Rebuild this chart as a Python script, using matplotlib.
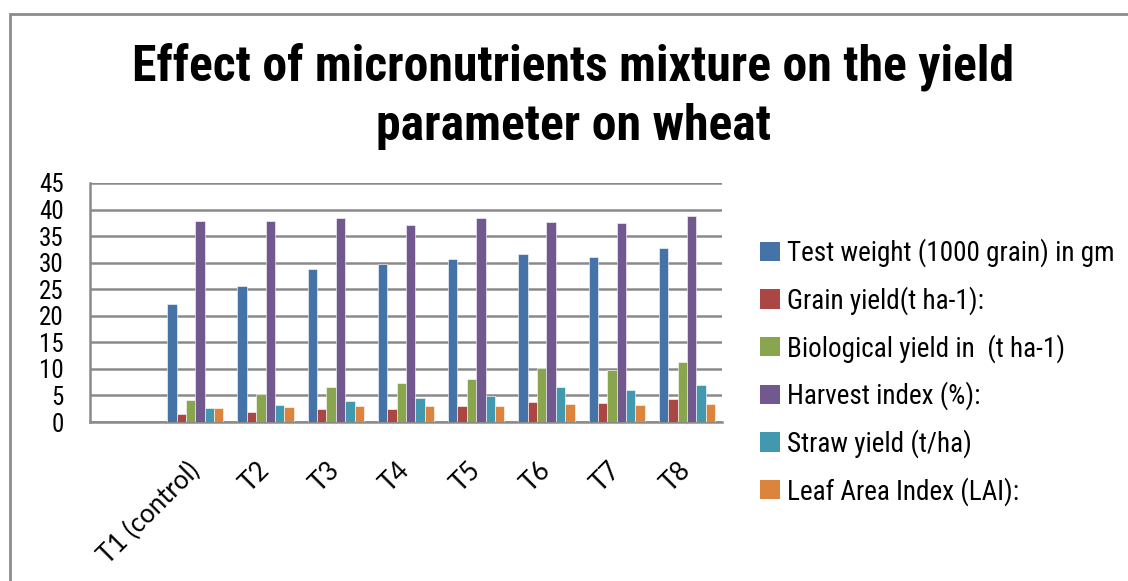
import numpy as np
import matplotlib
matplotlib.use('Agg')
import matplotlib.pyplot as plt
from matplotlib.patches import Patch, Rectangle
from matplotlib import font_manager

# Data
categories = ['T1 (control)', 'T2', 'T3', 'T4', 'T5', 'T6', 'T7', 'T8']
series_names = ['Test weight (1000 grain) in gm', 'Grain yield(t ha-1):',
                'Biological yield in  (t ha-1)', 'Harvest index (%):',
                'Straw yield (t/ha)', 'Leaf Area Index (LAI):']
test_weight = [22.2, 25.7, 28.8, 29.8, 30.6, 31.7, 31.0, 32.8]
grain_yield = [1.5, 1.9, 2.4, 2.45, 3.1, 3.8, 3.5, 4.3]
bio_yield = [4.15, 5.35, 6.5, 7.3, 8.1, 10.2, 9.75, 11.3]
harvest_index = [37.8, 37.9, 38.4, 37.0, 38.45, 37.6, 37.4, 38.7]
straw_yield = [2.6, 3.2, 4.0, 4.6, 4.95, 6.65, 6.1, 6.9]
lai = [2.7, 2.85, 2.95, 2.95, 3.1, 3.35, 3.15, 3.4]
colors = ['#4572A7', '#AA4643', '#89A54E', '#71588F', '#4198AF', '#DB843D']

installed = {f.name for f in font_manager.fontManager.ttflist}
narrow = [f for f in ['Liberation Sans Narrow', 'Roboto Condensed', 'Roboto']
          if f in installed] + ['DejaVu Sans']
calib = [f for f in ['Lato', 'Open Sans'] if f in installed] + ['DejaVu Sans']
cond = 'Narrow' in narrow[0] or 'Condensed' in narrow[0]

fig = plt.figure(figsize=(11.28, 5.81), dpi=100)
W, H = 1128, 581
ax = fig.add_axes([90 / W, (H - 422) / H, (722 - 90) / W, (422 - 183) / H])

# chart border
fig.patches.append(Rectangle((9.5 / W, -0.1), 1.2, (H - 13.5) / H + 0.1,
                             transform=fig.transFigure, fill=False,
                             edgecolor='#8c8c8c', linewidth=2))

data = [test_weight, grain_yield, bio_yield, harvest_index, straw_yield, lai]
x = np.arange(1, len(categories) + 1)
w = 0.8 / 6
for i, vals in enumerate(data):
    ax.bar(x + (i - 2.5) * w, vals, width=w, color=colors[i],
           edgecolor='white', linewidth=0.4, zorder=3)

ax.set_xlim(-0.5, 8.5)
ax.set_ylim(0, 45)
ax.set_yticks(range(0, 46, 5))
ax.grid(axis='y', color='#8a8a8a', linewidth=1.8, zorder=0)
for s in ['top', 'right']:
    ax.spines[s].set_visible(False)
for s in ['left', 'bottom']:
    ax.spines[s].set_color('#8a8a8a')
    ax.spines[s].set_linewidth(1.8)
ax.tick_params(axis='both', length=0)
ax.tick_params(axis='y', pad=19)
for t in ax.get_yticklabels():
    t.set_family(narrow)
    t.set_fontsize(18)

ax.set_xticks(x)
ax.set_xticklabels(categories, rotation=45, ha='right', va='center',
                   rotation_mode='anchor', family=calib, fontsize=18.5)
ax.tick_params(axis='x', pad=32)

fig.text(0.508, 0.835, 'Effect of micronutrients mixture on the yield\nparameter on wheat',
         ha='center', va='center', fontsize=35.8 if cond else 31.5,
         fontweight='bold', family=narrow, linespacing=1.32)

handles = [Patch(facecolor=c, edgecolor='none') for c in colors]
fig.legend(handles, series_names, loc='upper left',
           bbox_to_anchor=(736 / W, (H - 214) / H), frameon=False,
           prop={'family': narrow, 'size': 19.5 if cond else 17},
           handlelength=0.72, handleheight=0.72, handletextpad=0.25,
           labelspacing=0.70)

fig.savefig('out.png', dpi=100)
